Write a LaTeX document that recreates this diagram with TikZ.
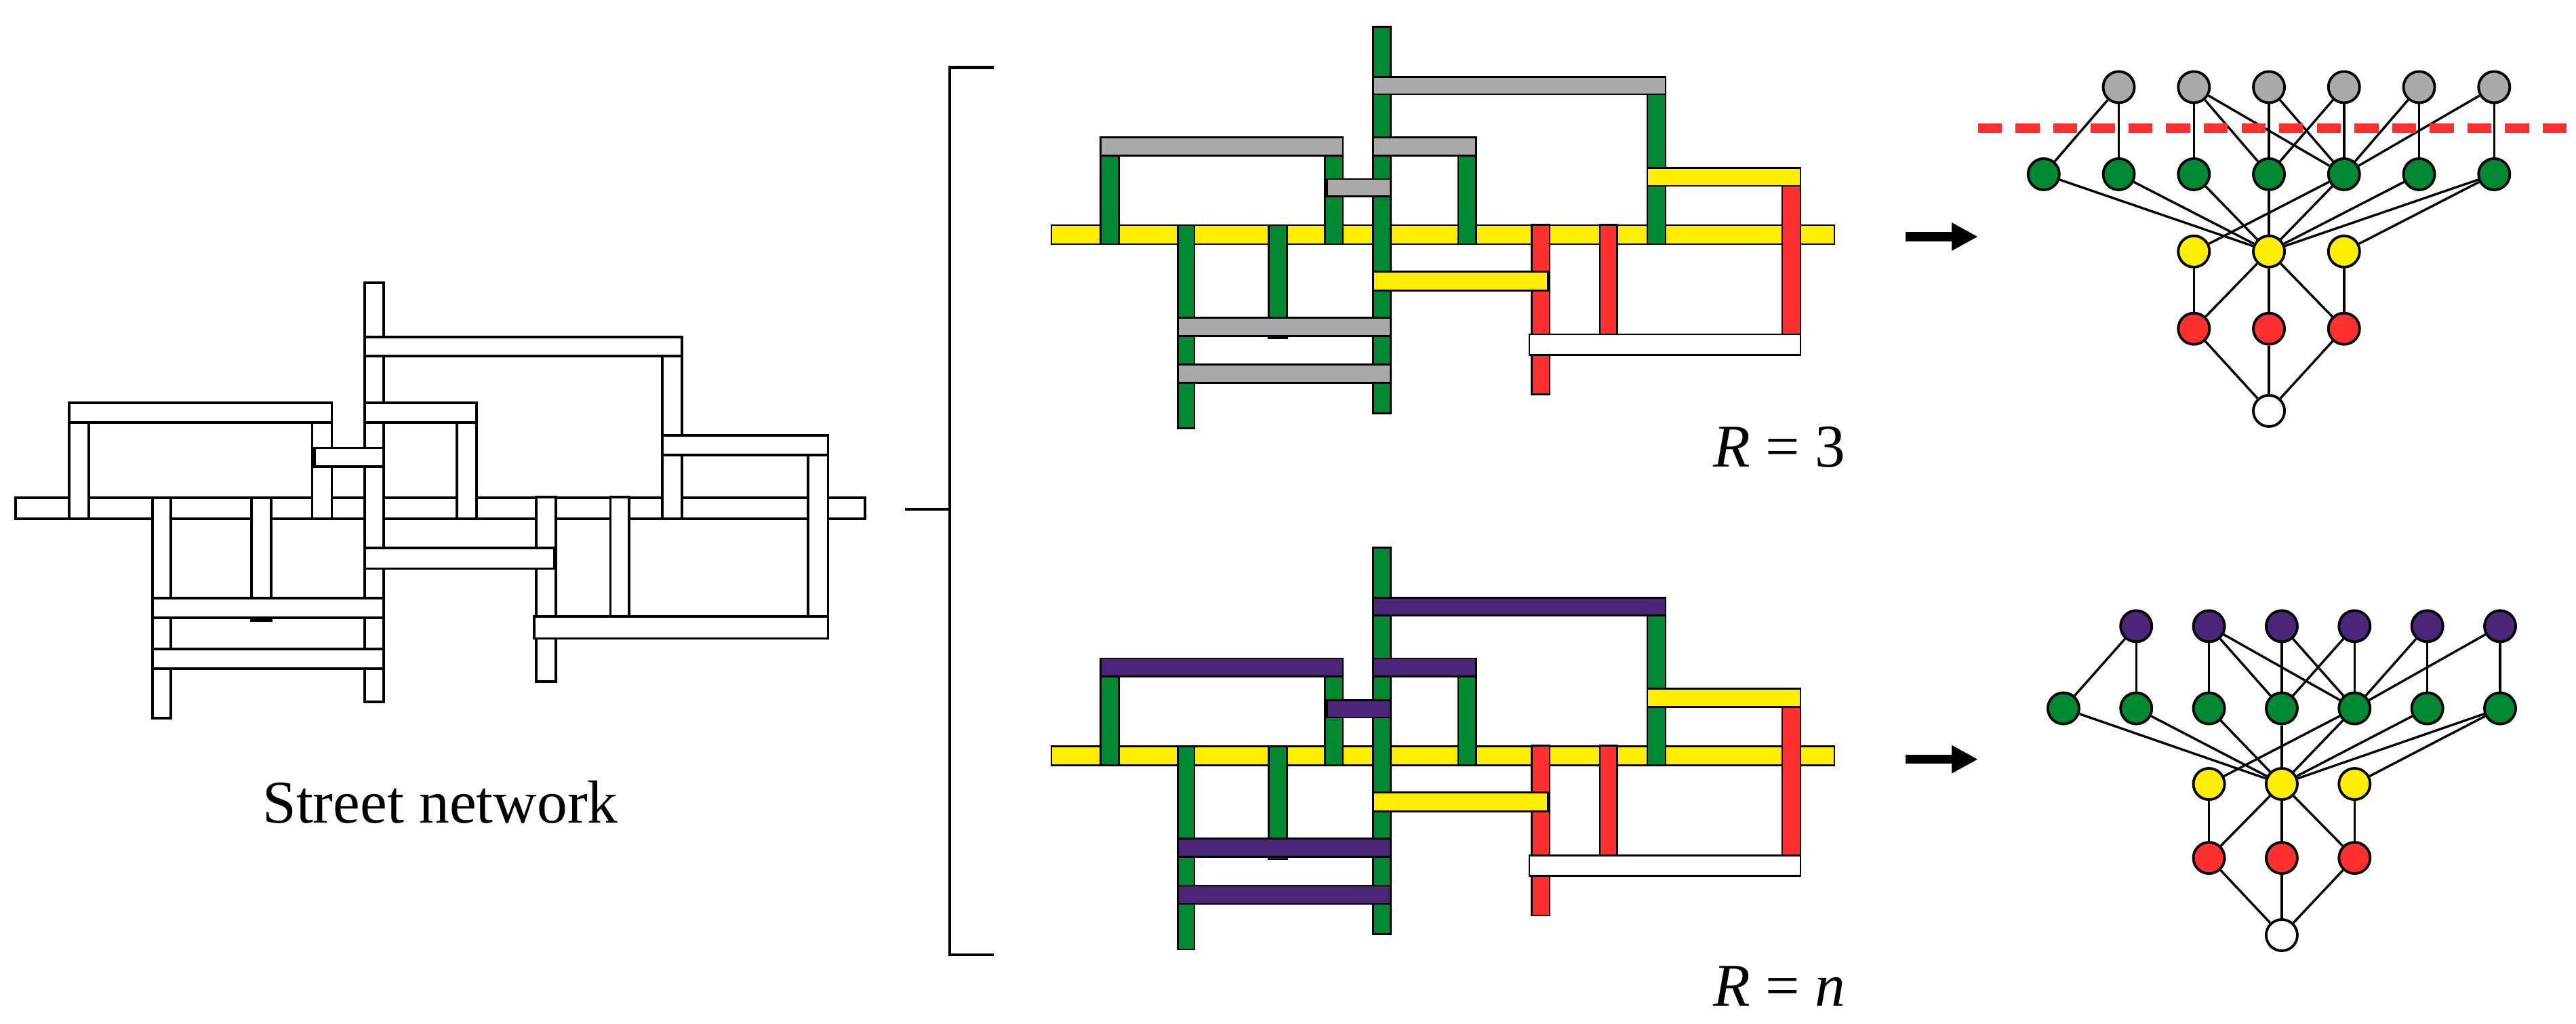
\documentclass[tikz,border=0pt]{standalone}
\usepackage{fontspec}
\setmainfont{Liberation Serif}
\usetikzlibrary{arrows.meta}
\definecolor{stgreen}{HTML}{008833}
\definecolor{stgray}{HTML}{AAAAAA}
\definecolor{stpurple}{HTML}{4B2678}
\definecolor{styellow}{HTML}{FFEE00}
\definecolor{stred}{HTML}{FF3030}

\tikzset{
  street/.style={draw=black, line width=0.45pt},
  vert/.style={street, fill=stgreen},
  vred/.style={street, fill=stred},
  hmain/.style={street, fill=styellow},
  hyel/.style={street, fill=styellow},
  hwhite/.style={street, fill=white},
  htop/.style={street, fill=stgray},
  plain/.style={vert/.style={street, fill=white}, vred/.style={street, fill=white},
    hmain/.style={street, fill=white}, hyel/.style={street, fill=white},
    htop/.style={street, fill=white}},
  gnode/.style={circle, draw=black, line width=0.45pt, minimum size=0.19cm, inner sep=0pt},
  gedge/.style={line width=0.4pt},
  maparrow/.style={-{Triangle[length=0.16cm, width=0.16cm]}, line width=1.6pt}
}

% one street network, drawn in street coordinates
\newcommand{\streetnet}{%
  \path[hmain] (9.6,303) rectangle (526.5,315.5);
  \foreach \xa/\ya/\xb/\yb/\st in {222/172/233.5/427/vert, 403/205/415/315.5/vert,
      42/245/54/315.5/vert, 190/245/202/315.5/vert, 278/245/290/315.5/vert,
      492/265/504/388.5/vred, 326.5/302.6/338.5/414.6/vred, 371.6/302.6/383/375/vred,
      93/303/104/437/vert, 153/303/165/377.5/vert}
    \path[\st] (\xa,\ya) rectangle (\xb,\yb);
  \foreach \xa/\ya/\xb/\yb/\st in {222/205/415/216.6/htop, 42/245/202/257/htop,
      191.5/272.5/233.5/284/htop, 222/245/290/257/htop, 403/265/504/277/hyel,
      325/375/504/388.5/hwhite, 222/333.5/337.4/346/hyel,
      93/364/233.5/376/htop, 93/395/233.5/407/htop}
    \path[\st] (\xa,\ya) rectangle (\xb,\yb);
}

% hierarchy graph: #1 name prefix, #2 top colour, #3 x of first green, #4 spacing, #5..#9 row heights
\newcommand{\hgraph}[9]{%
  \foreach \i in {1,...,6}
    \node[gnode, fill=#2] (#1t\i) at ({#3+\i*#4},#5) {};
  \foreach \i in {1,...,7}
    \node[gnode, fill=stgreen] (#1g\i) at ({#3+(\i-1)*#4},#6) {};
  \foreach \i in {1,2,3}
    \node[gnode, fill=styellow] (#1y\i) at ({#3+(\i+1)*#4},#7) {};
  \foreach \i in {1,2,3}
    \node[gnode, fill=stred] (#1r\i) at ({#3+(\i+1)*#4},#8) {};
  \node[gnode, fill=white] (#1w) at ({#3+3*#4},#9) {};
  \foreach \a/\b in {t1/g1, t1/g2, t2/g3, t2/g4, t2/g5, t3/g4, t3/g5, t4/g4, t4/g5,
      t5/g5, t5/g6, t6/g5, t6/g7, g1/y2, g2/y2, g3/y2, g4/y2, g5/y1, g5/y2, g6/y2,
      g7/y2, g7/y3, y1/r1, y2/r1, y2/r2, y2/r3, y3/r3, r1/w, r2/w, r3/w}
    \draw[gedge] (#1\a) -- (#1\b);
}

\begin{document}
\begin{tikzpicture}[x=0.01cm, y=-0.01cm]
  \useasboundingbox (0,0) rectangle (1568,623);

  % street network
  \begin{scope}[plain]
    \streetnet
  \end{scope}
  \node (title) at (268,488) {\fontsize{10.5}{12}\selectfont Street network};

  % bracket
  \draw[line width=0.5pt] (605,41) -- (578,41) -- (578,581) -- (605,581);
  \coordinate (brk) at (578,310);
  \coordinate (brkin) at (551,310);
  \draw[line width=0.5pt] (brkin) -- (brk);

  % coloured networks
  \begin{scope}[shift={(631.2,-142.3)}, scale=0.922, street/.append style={line width=0.3pt}]
    \streetnet
  \end{scope}
  \begin{scope}[shift={(631.2,174.7)}, scale=0.922, street/.append style={line width=0.3pt},
      htop/.style={street, fill=stpurple}]
    \streetnet
  \end{scope}
  \node (r3) at (1083,272) {\fontsize{10.5}{12}\selectfont\textit{R} = 3};
  \node (rn) at (1083,600) {\fontsize{10.5}{12}\selectfont\textit{R} = \textit{n}};

  % arrows
  \coordinate (a1) at (1160,144);
  \coordinate (b1) at (1204,144);
  \coordinate (a2) at (1160,462);
  \coordinate (b2) at (1204,462);
  \draw[maparrow] (a1) -- (b1);
  \draw[maparrow] (a2) -- (b2);

  % graphs
  \hgraph{u}{stgray}{1244}{45.7}{53}{106}{153}{200}{250}
  \hgraph{d}{stpurple}{1256}{44.3}{381}{431}{477}{522}{569}

  % cut level
  \coordinate (cut1) at (1204,78);
  \coordinate (cut2) at (1568,78);
  \draw[stred, line width=0.06cm, dash pattern=on 0.146cm off 0.083cm] (cut1) -- (cut2);
\end{tikzpicture}
\end{document}
